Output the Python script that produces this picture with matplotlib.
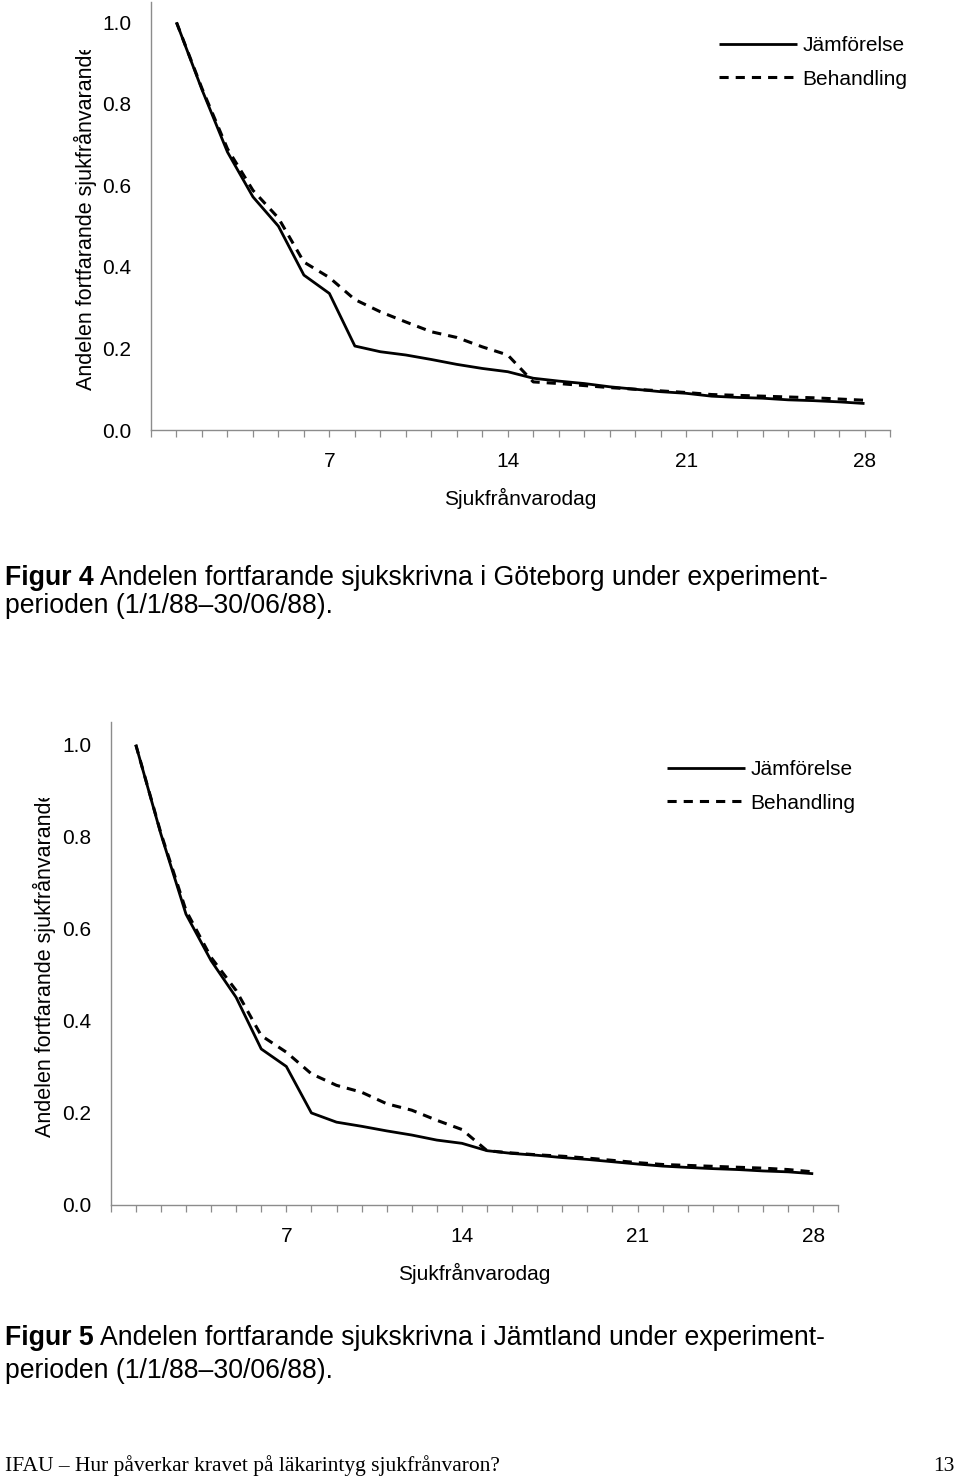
import matplotlib
matplotlib.use("Agg")
import matplotlib.pyplot as plt
from matplotlib.transforms import Bbox

plt.rcParams['font.family'] = ['Liberation Sans', 'DejaVu Sans']

# days 1..28 on the x axis
days = list(range(1, 29))

# Figur 4 - Göteborg
gbg_jamforelse = [1.0, 0.835, 0.682, 0.572, 0.500, 0.380, 0.335, 0.206, 0.192, 0.184,
                  0.173, 0.161, 0.151, 0.143, 0.127, 0.120, 0.114, 0.106, 0.100, 0.094,
                  0.090, 0.083, 0.080, 0.078, 0.074, 0.072, 0.069, 0.065]
gbg_behandling = [1.0, 0.838, 0.690, 0.588, 0.520, 0.412, 0.374, 0.320, 0.290, 0.265,
                  0.241, 0.227, 0.204, 0.184, 0.118, 0.114, 0.109, 0.104, 0.100, 0.096,
                  0.092, 0.087, 0.085, 0.083, 0.081, 0.079, 0.076, 0.073]

# Figur 5 - Jämtland
jmt_jamforelse = [1.0, 0.806, 0.632, 0.531, 0.451, 0.339, 0.301, 0.200, 0.180, 0.171,
                  0.161, 0.152, 0.141, 0.134, 0.118, 0.112, 0.108, 0.103, 0.099, 0.094,
                  0.089, 0.0845, 0.0816, 0.079, 0.077, 0.074, 0.072, 0.068]
jmt_behandling = [1.0, 0.808, 0.640, 0.538, 0.466, 0.368, 0.332, 0.285, 0.260, 0.245,
                  0.220, 0.206, 0.184, 0.164, 0.118, 0.113, 0.109, 0.106, 0.102, 0.097,
                  0.092, 0.088, 0.086, 0.084, 0.082, 0.080, 0.077, 0.072]

tick_days = [7, 14, 21, 28]
y_ticks = [0.0, 0.2, 0.4, 0.6, 0.8, 1.0]

W, H = 960, 1477
fig = plt.figure(figsize=(W / 100, H / 100), dpi=100)


def px_rect(x0, y0, x1, y1):
    # image pixel box (top-left origin) -> figure fraction rect
    return [x0 / W, (H - y1) / H, (x1 - x0) / W, (y1 - y0) / H]


def draw_chart(rect, jam, beh, legend_xy, clip_top):
    ax = fig.add_axes(rect)
    ax.plot(days, jam, color='black', lw=2.0, solid_capstyle='butt', label='Jämförelse')
    ax.plot(days, beh, color='black', lw=2.2, dashes=(3, 2.3), dash_capstyle='butt',
            label='Behandling')
    ax.set_xlim(0, 29)
    ax.set_ylim(0, 1.05)
    ax.set_xticks(range(0, 30))
    ax.set_xticklabels([str(d) if d in tick_days else '' for d in range(0, 30)])
    ax.set_yticks(y_ticks)
    ax.set_yticklabels(['%.1f' % v for v in y_ticks])
    for s in ['top', 'right']:
        ax.spines[s].set_visible(False)
    for s in ['left', 'bottom']:
        ax.spines[s].set_color('#8c8c8c')
        ax.spines[s].set_linewidth(1.0)
    ax.tick_params(axis='x', direction='out', length=5, width=0.9, color='#8c8c8c',
                   labelsize=15, pad=11)
    ax.tick_params(axis='y', length=0, labelsize=15, pad=14)
    ax.set_xlabel('Sjukfrånvarodag', fontsize=15, labelpad=12)
    lab = ax.set_ylabel('Andelen fortfarande sjukfrånvarande', fontsize=15.5, labelpad=4)
    lab.set_clip_on(True)
    lab.set_clip_box(Bbox.from_extents(0, 0, W, H - clip_top))
    ax.legend(loc='upper left', bbox_to_anchor=(legend_xy[0] / W, 1 - legend_xy[1] / H),
              bbox_transform=fig.transFigure, frameon=False, fontsize=15,
              handlelength=3.7, handletextpad=0.3, labelspacing=0.68, borderpad=0)
    return ax


draw_chart(px_rect(151, 2, 890, 430), gbg_jamforelse, gbg_behandling, (709, 26), 50)
draw_chart(px_rect(110.7, 721.7, 838.3, 1205), jmt_jamforelse, jmt_behandling, (657, 750), 798)

# captions
renderer = fig.canvas.get_renderer()


def caption(x, y, num, rest1, line2, dy):
    t = fig.text(x / W, 1 - y / H, num, fontsize=19.2, fontweight='bold', va='baseline')
    bb = t.get_window_extent(renderer)
    fig.text((bb.x1 + 6) / W, 1 - y / H, rest1, fontsize=19.2, va='baseline')
    fig.text(x / W, 1 - (y + dy) / H, line2, fontsize=19.2, va='baseline')


caption(5, 585, 'Figur 4', 'Andelen fortfarande sjukskrivna i Göteborg under experiment-',
        'perioden (1/1/88–30/06/88).', 28)
caption(5, 1345, 'Figur 5', 'Andelen fortfarande sjukskrivna i Jämtland under experiment-',
        'perioden (1/1/88–30/06/88).', 33)

# page footer
fig.text(5 / W, 1 - 1471 / H, 'IFAU – Hur påverkar kravet på läkarintyg sjukfrånvaron?',
         fontsize=15.5, family='Liberation Serif', va='baseline')
fig.text(955 / W, 1 - 1471 / H, '13', fontsize=15.5, family='Liberation Serif',
         va='baseline', ha='right')

fig.savefig('out.png', dpi=100)
